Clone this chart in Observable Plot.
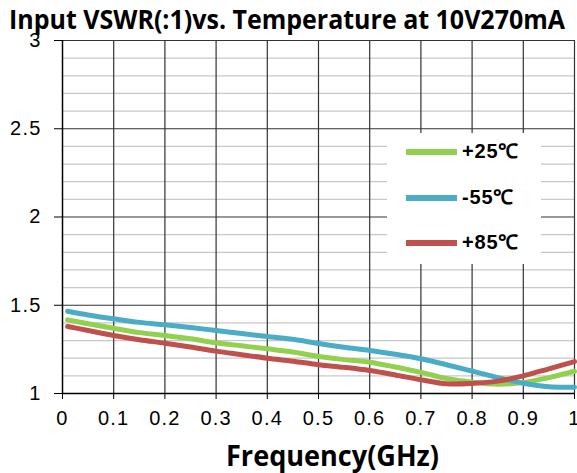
<!DOCTYPE html>
<html>
<head>
<meta charset="utf-8">
<script src="https://cdn.jsdelivr.net/npm/d3@7"></script>
<script src="https://cdn.jsdelivr.net/npm/@observablehq/plot@0.6"></script>
<style>
  html, body { margin: 0; padding: 0; background: #fff; }
  #wrap { position: relative; width: 577px; height: 473px; overflow: hidden; }
  #overlay { position: absolute; left: 0; top: 0; }
  #legend { position: absolute; left: 387px; top: 133px; width: 154px; height: 131px; background: #fff; }
  .item { position: absolute; left: 0; height: 24px; width: 154px; }
  .sw { position: absolute; left: 19px; top: 9px; width: 51px; height: 6px; }
  .lab { position: absolute; left: 75px; top: -3px; font-family: "Liberation Sans", Arial, sans-serif; font-weight: 700; font-size: 20px; letter-spacing: 0.8px; color: #000; white-space: nowrap; }
</style>
</head>
<body>
<div id="wrap">
  <div id="chart"></div>
  <div id="legend"></div>
</div>
<script>
const titleText = "Input VSWR(:1)vs. Temperature at 10V270mA";
const xLabelText = "Frequency(GHz)";
const freq = [0.01,0.05,0.1,0.15,0.2,0.25,0.3,0.35,0.4,0.45,0.5,0.55,0.6,0.65,0.7,0.75,0.8,0.85,0.9,0.95,1.0];
const vswr25 = [1.417,1.395,1.370,1.345,1.329,1.310,1.287,1.270,1.253,1.235,1.210,1.192,1.177,1.150,1.120,1.085,1.064,1.053,1.062,1.090,1.126];
const vswrM55 = [1.466,1.445,1.423,1.403,1.389,1.374,1.357,1.340,1.323,1.307,1.283,1.262,1.244,1.222,1.197,1.163,1.127,1.090,1.058,1.038,1.036];
const vswr85 = [1.380,1.357,1.329,1.305,1.285,1.263,1.240,1.220,1.200,1.183,1.163,1.148,1.130,1.105,1.078,1.055,1.057,1.070,1.100,1.140,1.181];
const seriesNames = ["+25℃", "-55℃", "+85℃"];
const seriesColors = ["#92D050", "#4BACC6", "#C0504D"];
const xTicks = [0,0.1,0.2,0.3,0.4,0.5,0.6,0.7,0.8,0.9,1];
const yTicks = [1,1.5,2,2.5,3];
const yMinor = [1.1,1.2,1.3,1.4,1.6,1.7,1.8,1.9,2.1,2.2,2.3,2.4,2.6,2.7,2.8,2.9];

const allSeries = [vswr25, vswrM55, vswr85];
const rows = [];
allSeries.forEach((vals, i) => vals.forEach((v, j) => rows.push({f: freq[j], v, s: seriesNames[i]})));

const tickFont = "Liberation Sans, Arial, sans-serif";
const chart = Plot.plot({
  width: 577, height: 473,
  marginLeft: 62, marginRight: 3, marginTop: 40, marginBottom: 80,
  x: {domain: [0, 1]},
  y: {domain: [1, 3]},
  style: {background: "transparent"},
  marks: [
    Plot.gridY(yMinor, {stroke: "#c8c8c8", strokeOpacity: 1, strokeWidth: 1.2}),
    Plot.gridX(xTicks.slice(1), {stroke: "#333", strokeOpacity: 1, strokeWidth: 1.2}),
    Plot.gridY([1.5, 2, 2.5, 3], {stroke: "#333", strokeOpacity: 1, strokeWidth: 1.2}),
    ...seriesNames.map((name, i) => Plot.line(rows.filter(d => d.s === name), {
      x: "f", y: "v", stroke: seriesColors[i], strokeWidth: 5, curve: "catmull-rom"
    })),
    Plot.ruleX([0], {stroke: "#000", strokeWidth: 1.5}),
    Plot.ruleY([1], {stroke: "#000", strokeWidth: 1.5}),
    Plot.axisY(yTicks, {tickSize: 8, tickPadding: 13, fontSize: 20, fontFamily: tickFont, fill: "#000", stroke: "#000", tickFormat: d => String(d), label: null}),
    Plot.axisX(xTicks, {tickSize: 6, tickPadding: 11, fontSize: 20, fontFamily: tickFont, fill: "#000", stroke: "#000", tickFormat: d => String(d), label: null})
  ]
});
chart.querySelectorAll("g[aria-label='y-axis tick label'] text, g[aria-label='x-axis tick label'] text").forEach(t => t.style.letterSpacing = "1.2px");
document.getElementById("chart").appendChild(chart);

const legend = document.getElementById("legend");
const tops = [7, 53, 98];
seriesNames.forEach((name, i) => {
  const it = document.createElement("div");
  it.className = "item";
  it.style.top = tops[i] + "px";
  it.innerHTML = `<div class="sw" style="background:${seriesColors[i]}"></div><div class="lab">${name}</div>`;
  legend.appendChild(it);
});

// Title and axis label overlay
const ov = d3.select("#wrap").append("svg").attr("id", "overlay").attr("width", 577).attr("height", 473);
ov.append("text").text(titleText)
  .attr("x", 287).attr("y", 29).attr("text-anchor", "middle")
  .attr("textLength", 556).attr("lengthAdjust", "spacingAndGlyphs")
  .attr("font-family", "Open Sans, sans-serif").attr("font-weight", 700).attr("font-size", 27).attr("fill", "#000");
ov.append("text").text(xLabelText)
  .attr("x", 332.5).attr("y", 466).attr("text-anchor", "middle")
  .attr("textLength", 213).attr("lengthAdjust", "spacingAndGlyphs")
  .attr("font-family", "Open Sans, sans-serif").attr("font-weight", 700).attr("font-size", 28).attr("fill", "#000");
</script>
</body>
</html>
